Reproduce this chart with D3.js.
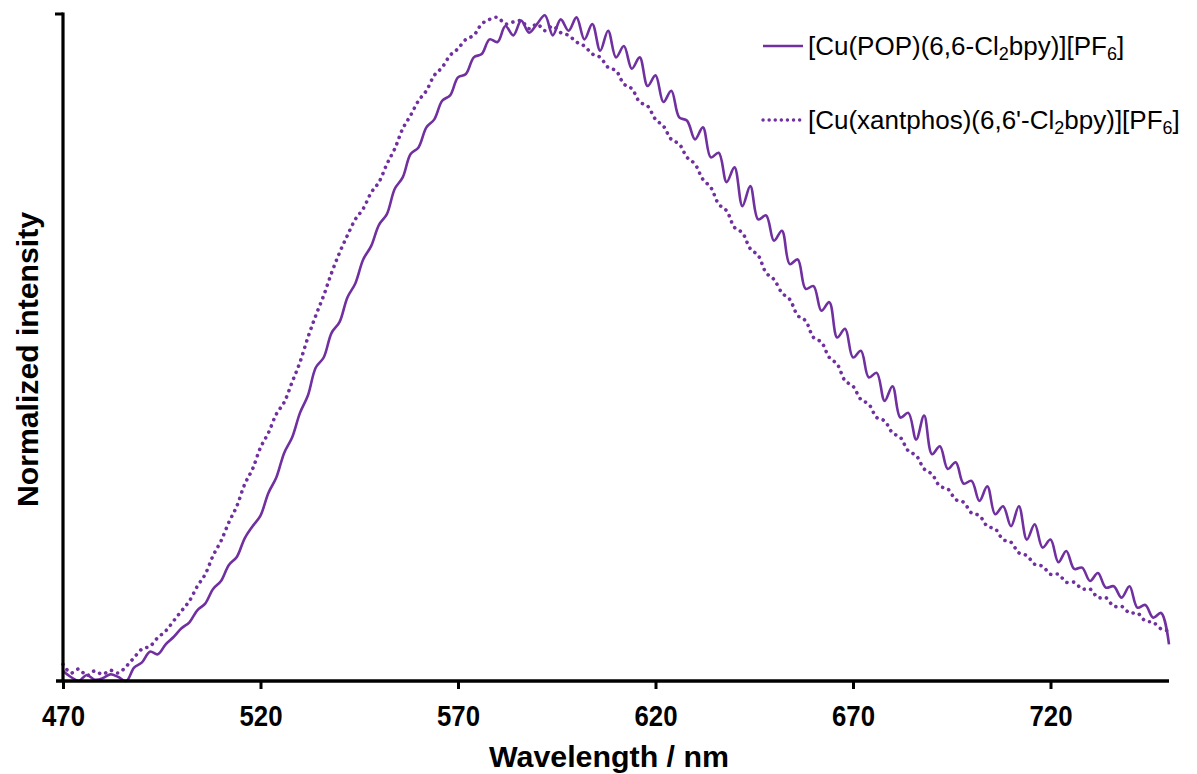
<!DOCTYPE html>
<html>
<head>
<meta charset="utf-8">
<script src="https://cdn.jsdelivr.net/npm/d3@7"></script>
<style>
  body { margin: 0; background: #fff; }
  text { font-family: "Liberation Sans", Arial, sans-serif; fill: #000; }
</style>
</head>
<body>
<div id="chart"></div>
<script>
// wavelength grid (nm), 2 nm steps
var wavelengths = d3.range(470, 751, 2);

// [Cu(POP)(6,6-Cl2bpy)][PF6] - solid
var popValues = [
  0.015, 0.006, 0.000, 0.009, 0.002, 0.004, 0.010, 0.006, 0.000, 0.020,
  0.028, 0.044, 0.040, 0.055, 0.066, 0.079, 0.088, 0.106, 0.116, 0.138,
  0.150, 0.174, 0.186, 0.214, 0.232, 0.248, 0.282, 0.305, 0.342, 0.365,
  0.402, 0.428, 0.470, 0.485, 0.522, 0.538, 0.575, 0.596, 0.632, 0.652,
  0.684, 0.700, 0.738, 0.755, 0.790, 0.800, 0.830, 0.842, 0.870, 0.878,
  0.905, 0.910, 0.935, 0.940, 0.962, 0.958, 0.982, 0.968, 0.990, 0.972,
  0.985, 0.998, 0.968, 0.992, 0.975, 0.995, 0.962, 0.985, 0.945, 0.975,
  0.935, 0.952, 0.918, 0.935, 0.892, 0.908, 0.868, 0.885, 0.845, 0.840,
  0.812, 0.830, 0.785, 0.792, 0.748, 0.770, 0.712, 0.742, 0.692, 0.698,
  0.660, 0.675, 0.625, 0.632, 0.588, 0.592, 0.555, 0.568, 0.515, 0.528,
  0.485, 0.495, 0.455, 0.462, 0.420, 0.442, 0.395, 0.402, 0.362, 0.398,
  0.340, 0.352, 0.318, 0.328, 0.296, 0.300, 0.270, 0.292, 0.250, 0.262,
  0.232, 0.262, 0.212, 0.235, 0.200, 0.212, 0.178, 0.195, 0.168, 0.170,
  0.150, 0.162, 0.140, 0.142, 0.125, 0.142, 0.110, 0.114, 0.095, 0.102,
  0.055
];

// [Cu(xantphos)(6,6'-Cl2bpy)][PF6] - dotted
var xantValues = [
  0.025, 0.012, 0.018, 0.008, 0.015, 0.010, 0.016, 0.012, 0.022, 0.035,
  0.048, 0.052, 0.065, 0.075, 0.090, 0.105, 0.120, 0.142, 0.160, 0.188,
  0.210, 0.238, 0.262, 0.295, 0.318, 0.350, 0.372, 0.400, 0.418, 0.448,
  0.478, 0.515, 0.548, 0.578, 0.612, 0.642, 0.668, 0.692, 0.708, 0.732,
  0.748, 0.775, 0.798, 0.828, 0.848, 0.870, 0.885, 0.908, 0.920, 0.938,
  0.948, 0.962, 0.968, 0.985, 0.992, 0.995, 0.985, 0.988, 0.990, 0.978,
  0.985, 0.975, 0.982, 0.972, 0.968, 0.958, 0.952, 0.940, 0.935, 0.920,
  0.915, 0.895, 0.888, 0.868, 0.862, 0.842, 0.832, 0.812, 0.805, 0.785,
  0.775, 0.752, 0.740, 0.715, 0.705, 0.680, 0.672, 0.648, 0.638, 0.612,
  0.602, 0.582, 0.572, 0.548, 0.540, 0.515, 0.508, 0.485, 0.475, 0.450,
  0.442, 0.422, 0.415, 0.395, 0.390, 0.372, 0.365, 0.345, 0.338, 0.318,
  0.310, 0.292, 0.288, 0.272, 0.268, 0.252, 0.248, 0.232, 0.228, 0.212,
  0.208, 0.192, 0.188, 0.175, 0.172, 0.160, 0.160, 0.148, 0.148, 0.138,
  0.138, 0.125, 0.125, 0.112, 0.112, 0.102, 0.102, 0.090, 0.088, 0.078,
  0.075
];

var xTicks = [470, 520, 570, 620, 670, 720];

var seriesNames = [
  { base: "[Cu(POP)(6,6-Cl", sub1: "2", mid: "bpy)][PF", sub2: "6", end: "]", dash: null },
  { base: "[Cu(xantphos)(6,6'-Cl", sub1: "2", mid: "bpy)][PF", sub2: "6", end: "]", dash: "0.1 6.5" }
];

var color = "#7030a0";

var W = 1197, H = 774;
var margin = { top: 14, right: 28, bottom: 93, left: 63 };
var width = W - margin.left - margin.right;
var height = H - margin.top - margin.bottom;

var svg = d3.select("#chart").append("svg")
  .attr("width", W)
  .attr("height", H)
  .append("g")
  .attr("transform", "translate(" + margin.left + "," + margin.top + ")");

var x = d3.scaleLinear().domain([470, 750]).range([0, width]);
var y = d3.scaleLinear().domain([0, 1]).range([height, 0]);

// series
var series = [popValues, xantValues].map(function(vals, i) {
  return { name: seriesNames[i], points: wavelengths.map(function(w, j) { return { w: w, v: vals[j] }; }) };
});

var line = d3.line()
  .x(function(d) { return x(d.w); })
  .y(function(d) { return y(d.v); })
  .curve(d3.curveCatmullRom);

svg.selectAll(".series")
  .data(series)
  .enter()
  .append("path")
  .attr("class", "series")
  .attr("d", function(d) { return line(d.points); })
  .attr("fill", "none")
  .attr("stroke", color)
  .attr("stroke-width", function(d) { return d.name.dash ? 3.6 : 2.6; })
  .attr("stroke-linecap", function(d) { return d.name.dash ? "round" : "butt"; })
  .attr("stroke-dasharray", function(d) { return d.name.dash; });

// x axis
var xAxis = svg.append("g")
  .attr("transform", "translate(0," + height + ")")
  .call(d3.axisBottom(x).tickValues(xTicks).tickSize(8).tickSizeOuter(0));
xAxis.select(".domain").remove();
xAxis.selectAll(".tick line").attr("stroke", "#000").attr("stroke-width", 3);
xAxis.selectAll(".tick text")
  .attr("y", 24)
  .attr("dy", "0.71em")
  .attr("textLength", 43)
  .attr("lengthAdjust", "spacingAndGlyphs")
  .style("font-size", "30px")
  .style("font-weight", "bold");
xAxis.append("line")
  .attr("x1", -7).attr("x2", width)
  .attr("y1", 0).attr("y2", 0)
  .attr("stroke", "#000").attr("stroke-width", 3.5);

// y axis (no labels, only a tick at the top)
svg.append("line")
  .attr("x1", 0).attr("x2", 0)
  .attr("y1", y(1) - 1.5).attr("y2", height)
  .attr("stroke", "#000").attr("stroke-width", 3.2);
svg.append("line")
  .attr("x1", -8).attr("x2", 0)
  .attr("y1", y(1)).attr("y2", y(1))
  .attr("stroke", "#000").attr("stroke-width", 3);

// axis titles
svg.append("text")
  .attr("x", width / 2 - 7)
  .attr("y", height + 86)
  .attr("text-anchor", "middle")
  .attr("textLength", 240)
  .attr("lengthAdjust", "spacingAndGlyphs")
  .style("font-size", "30px")
  .style("font-weight", "bold")
  .text("Wavelength / nm");

svg.append("text")
  .attr("transform", "translate(-36," + (height / 2 + 12) + ") rotate(-90)")
  .attr("text-anchor", "middle")
  .attr("dy", "0.35em")
  .attr("textLength", 295)
  .attr("lengthAdjust", "spacingAndGlyphs")
  .style("font-size", "30px")
  .style("font-weight", "bold")
  .text("Normalized intensity");

// legend
var legend = svg.append("g")
  .attr("transform", "translate(" + (763 - margin.left) + "," + (46 - margin.top) + ")");

var item = legend.selectAll(".item")
  .data(seriesNames)
  .enter()
  .append("g")
  .attr("class", "item")
  .attr("transform", function(d, i) { return "translate(0," + i * 74 + ")"; });

item.append("line")
  .attr("x1", 0).attr("x2", 40)
  .attr("y1", 0).attr("y2", 0)
  .attr("stroke", color)
  .attr("stroke-width", function(d) { return d.dash ? 3.4 : 2.6; })
  .attr("stroke-linecap", function(d) { return d.dash ? "round" : "butt"; })
  .attr("stroke-dasharray", function(d) { return d.dash ? "0.1 6" : null; });

var label = item.append("text")
  .attr("x", 45)
  .attr("y", 9)
  .style("font-size", "26px");
label.append("tspan").text(function(d) { return d.base; });
label.append("tspan").attr("dy", 5).style("font-size", "18px").text(function(d) { return d.sub1; });
label.append("tspan").attr("dy", -5).text(function(d) { return d.mid; });
label.append("tspan").attr("dy", 5).style("font-size", "18px").text(function(d) { return d.sub2; });
label.append("tspan").attr("dy", -5).text(function(d) { return d.end; });
</script>
</body>
</html>
